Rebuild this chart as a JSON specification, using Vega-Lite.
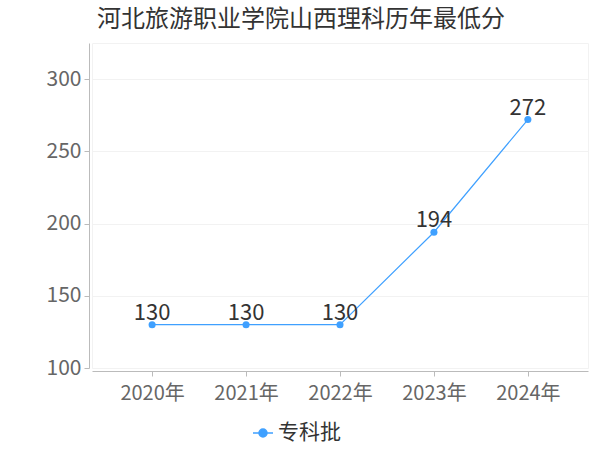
{
  "$schema": "https://vega.github.io/schema/vega-lite/v6.json",
  "width": 496,
  "height": 325,
  "autosize": "none",
  "padding": {"left": 92, "top": 43, "right": 12, "bottom": 82},
  "title": {
    "text": "河北旅游职业学院山西理科历年最低分",
    "anchor": "start",
    "frame": "group",
    "dx": 5,
    "offset": 11,
    "font": "Noto Sans CJK SC",
    "fontSize": 24,
    "fontWeight": "normal",
    "color": "#333333"
  },
  "data": {
    "values": [
      {"year": "2020年", "score": 130, "batch": "专科批"},
      {"year": "2021年", "score": 130, "batch": "专科批"},
      {"year": "2022年", "score": 130, "batch": "专科批"},
      {"year": "2023年", "score": 194, "batch": "专科批"},
      {"year": "2024年", "score": 272, "batch": "专科批"}
    ]
  },
  "encoding": {
    "x": {
      "field": "year",
      "type": "ordinal",
      "scale": {"type": "point", "padding": 0.64},
      "axis": {
        "title": null,
        "labelAngle": 0,
        "offset": 3,
        "labelFontSize": 20,
        "labelPadding": 7
      }
    },
    "y": {
      "field": "score",
      "type": "quantitative",
      "scale": {"domain": [100, 325], "nice": false, "zero": false},
      "axis": {
        "title": null,
        "values": [100, 150, 200, 250, 300],
        "offset": 3,
        "labelFontSize": 21,
        "labelPadding": 3
      }
    }
  },
  "layer": [
    {
      "mark": {"type": "line", "strokeWidth": 1.2},
      "encoding": {
        "color": {
          "field": "batch",
          "type": "nominal",
          "scale": {"range": ["#3fa0ff"]},
          "legend": {
            "title": null,
            "orient": "none",
            "legendX": 160,
            "legendY": 379,
            "padding": 0,
            "symbolType": "M-1,0L1,0M-0.4,0A0.4,0.4,0,1,1,0.4,0A0.4,0.4,0,1,1,-0.4,0",
            "symbolSize": 400,
            "symbolStrokeWidth": 1.5,
            "labelFontSize": 21,
            "labelColor": "#333333",
            "labelFont": "Noto Sans CJK SC",
            "labelOffset": 4
          }
        }
      }
    },
    {
      "mark": {"type": "point", "filled": true, "size": 50, "opacity": 1},
      "encoding": {
        "color": {"field": "batch", "type": "nominal"}
      }
    },
    {
      "mark": {
        "type": "text",
        "baseline": "alphabetic",
        "dy": -5,
        "fontSize": 22,
        "color": "#333333",
        "font": "Noto Sans CJK SC"
      },
      "encoding": {
        "text": {"field": "score", "type": "quantitative"}
      }
    }
  ],
  "config": {
    "font": "Noto Sans CJK SC",
    "view": {"stroke": "#f2f2f2"},
    "axis": {
      "domainColor": "#bbbbbb",
      "tickColor": "#bbbbbb",
      "tickSize": 5,
      "gridColor": "#f2f2f2",
      "labelColor": "#666666",
      "labelFont": "Noto Sans CJK SC"
    }
  }
}
